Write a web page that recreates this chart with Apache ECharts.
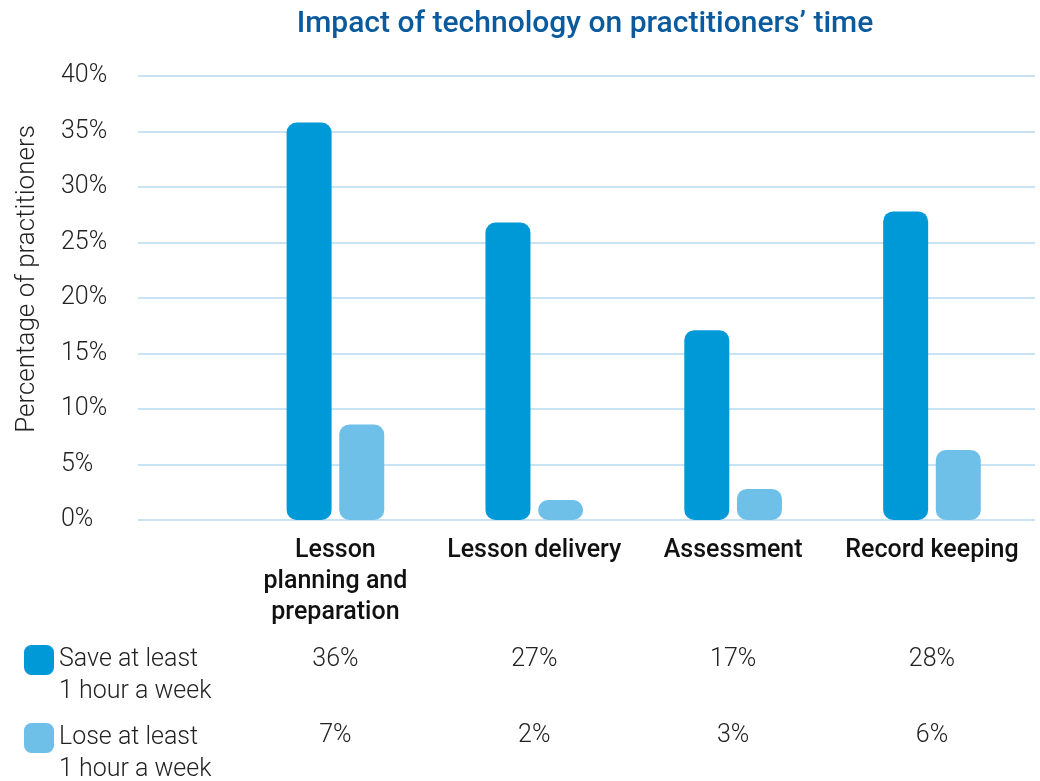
<!DOCTYPE html>
<html>
<head>
<meta charset="utf-8">
<title>Impact of technology on practitioners’ time</title>
<script src="https://cdn.jsdelivr.net/npm/echarts@6/dist/echarts.min.js"></script>
<style>
    html, body { margin: 0; padding: 0; background: #fff; }
    #chart { width: 1040px; height: 781px; }
</style>
</head>
<body>
<div id="chart"></div>
<script>
// 类目 / 数据
var categories = ['Lesson\nplanning and\npreparation', 'Lesson delivery', 'Assessment', 'Record keeping'];
var seriesNames = ['Save at least\n1 hour a week', 'Lose at least\n1 hour a week'];
// bar heights as drawn
var saveValues = [35.8, 26.8, 17.1, 27.8];
var loseValues = [8.6, 1.8, 2.8, 6.3];
// table row labels
var saveLabels = ['36%', '27%', '17%', '28%'];
var loseLabels = ['7%', '2%', '3%', '6%'];
var yTicks = [0, 40, 5]; // min, max, interval

var FONT = 'Roboto';
var DARK = '#0099d8';
var LIGHT = '#6ec0e8';

var myChart = echarts.init(document.getElementById('chart'));

function legendFor(name, top) {
    return {
        orient: 'vertical',
        left: 24,
        top: top,
        padding: 0,
        itemWidth: 30,
        itemHeight: 30,
        itemStyle: { borderWidth: 0 },
        icon: 'roundRect',
        itemTextGap: 9,
        selectedMode: false,
        // 空行把第一行推到图标中线
        formatter: function (n) { return '\n' + n; },
        textStyle: {
            fontFamily: FONT,
            fontSize: 25,
            fontWeight: 300,
            color: '#222',
            lineHeight: 32
        },
        data: [name]
    };
}

var option = {
    backgroundColor: '#fff',
    animation: false,
    title: {
        text: 'Impact of technology on practitioners’ time',
        left: 585,
        textAlign: 'center',
        top: 9,
        padding: 0,
        textStyle: {
            fontFamily: FONT,
            fontSize: 30,
            fontWeight: 500,
            color: '#0b5a9e'
        }
    },
    legend: [
        legendFor(seriesNames[0], 612),
        legendFor(seriesNames[1], 690)
    ],
    graphic: [{
        type: 'text',
        x: 27,
        y: 279,
        rotation: Math.PI / 2,
        style: {
            text: 'Percentage of practitioners',
            fontFamily: FONT,
            fontSize: 26,
            fontWeight: 300,
            fill: '#222',
            align: 'center',
            verticalAlign: 'middle'
        }
    }],
    grid: [
        {left: 138, right: 5, top: 76, bottom: 261},
        {left: 236, right: 8.6, top: 76, bottom: 261}
    ],
    xAxis: [
        {
            gridIndex: 0,
            type: 'category',
            data: ['x'],
            show: false
        },
        {
            gridIndex: 1,
            type: 'category',
            data: categories,
            axisLine: {show: false},
            axisTick: {show: false},
            axisLabel: {
                interval: 0,
                margin: 15,
                fontFamily: FONT,
                fontSize: 25,
                fontWeight: 500,
                color: '#111',
                lineHeight: 31
            }
        },
        {
            gridIndex: 1,
            type: 'category',
            position: 'bottom',
            offset: 127,
            data: saveLabels,
            axisLine: {show: false},
            axisTick: {show: false},
            axisLabel: {
                interval: 0,
                margin: 0,
                fontFamily: FONT,
                fontSize: 25,
                fontWeight: 300,
                color: '#222',
                lineHeight: 26
            }
        },
        {
            gridIndex: 1,
            type: 'category',
            position: 'bottom',
            offset: 203,
            data: loseLabels,
            axisLine: {show: false},
            axisTick: {show: false},
            axisLabel: {
                interval: 0,
                margin: 0,
                fontFamily: FONT,
                fontSize: 25,
                fontWeight: 300,
                color: '#222',
                lineHeight: 26
            }
        }
    ],
    yAxis: [
        {
            gridIndex: 0,
            type: 'value',
            min: yTicks[0],
            max: yTicks[1],
            interval: yTicks[2],
            axisLine: {show: false},
            axisTick: {show: false},
            axisLabel: {
                align: 'left',
                margin: 77,
                formatter: '{value}%',
                fontFamily: FONT,
                fontSize: 25,
                fontWeight: 300,
                color: '#222'
            },
            splitLine: {
                show: true,
                lineStyle: {color: '#c8e3f4', width: 2}
            }
        },
        {
            gridIndex: 1,
            type: 'value',
            min: yTicks[0],
            max: yTicks[1],
            interval: yTicks[2],
            show: false,
            splitLine: {show: false}
        }
    ],
    series: [
        {
            name: seriesNames[0],
            type: 'bar',
            xAxisIndex: 1,
            yAxisIndex: 1,
            barWidth: 45,
            barGap: '17%',
            itemStyle: {color: DARK, borderRadius: 10},
            data: saveValues
        },
        {
            name: seriesNames[1],
            type: 'bar',
            xAxisIndex: 1,
            yAxisIndex: 1,
            barWidth: 45,
            barGap: '17%',
            itemStyle: {color: LIGHT, borderRadius: 10},
            data: loseValues
        }
    ]
};

myChart.setOption(option);
</script>
</body>
</html>
